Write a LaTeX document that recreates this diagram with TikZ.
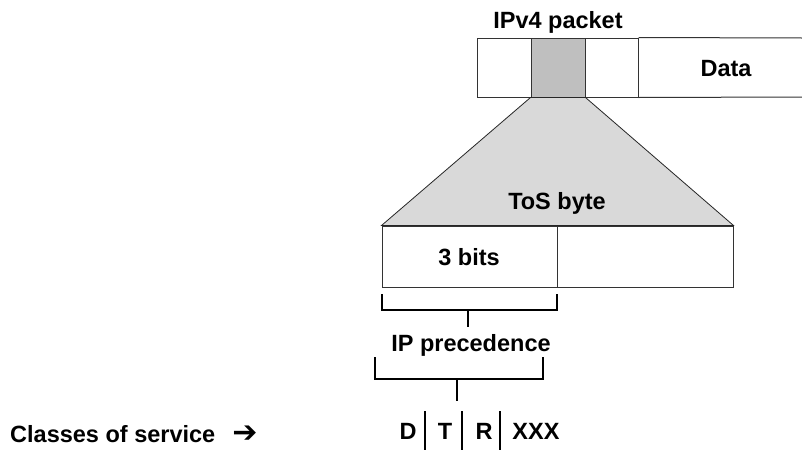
\documentclass[tikz,border=0pt]{standalone}
\usepackage{fontspec}
\setmainfont{Liberation Sans}
\newfontfamily\arrowfont{DejaVu Sans}
\tikzset{
  cell/.style={draw=black!80, line width=1pt, inner sep=0pt, minimum height=59pt},
  tosbox/.style={draw=black!80, line width=1pt, inner sep=0pt, minimum height=61pt},
  lbl/.style={inner sep=0pt, font=\bfseries\fontsize{23.5}{28}\selectfont},
  bracket/.style={line width=1.8pt},
}
\begin{document}
\begin{tikzpicture}[x=1pt, y=-1pt]
  \useasboundingbox (0,0) rectangle (802,450);
  % the IPv4 packet
  \draw (558,28) node[lbl, anchor=base] (pkt){IPv4 packet};
  \node[cell, minimum width=54pt] (c1) at (504,67.5) {};
  \node[cell, minimum width=54pt, fill=black!25] (c2) at (558,67.5) {};
  \node[cell, minimum width=53pt] (c3) at (611.5,67.5) {};
  \coordinate (dtop) at (802,38);
  \coordinate (dbot) at (802,97);
  \draw[black!80, line width=1pt] (c3.north east) -- (dtop) (c3.south east) -- (dbot);
  \draw (726,76) node[lbl, anchor=base] (data){Data};
  % the ToS byte, opened out of the grey field
  \node[tosbox, minimum width=175pt] (bits) at (469.5,256.5) {};
  \node[tosbox, minimum width=176pt] (rest) at (645,256.5) {};
  \filldraw[fill=black!15, draw=black!85, line width=0.8pt]
    (c2.south west) -- (bits.north west) -- (rest.north east) -- (c2.south east) -- cycle;
  \node[tosbox, minimum width=175pt] at (bits) {};
  \node[tosbox, minimum width=176pt] at (rest) {};
  \draw (557,209) node[lbl, anchor=base] (tos){ToS byte};
  \draw (469,265) node[lbl, anchor=base] (three){3 bits};
  % brackets
  \coordinate (s1) at (468,310);
  \coordinate (s1end) at (468,327);
  \draw[bracket] (382,294) |- (557,310) -- (557,294);
  \draw[bracket] (s1) -- (s1end);
  \draw (471,351) node[lbl, anchor=base] (prec){IP precedence};
  \coordinate (s2) at (457,379);
  \coordinate (s2end) at (457,401);
  \draw[bracket] (375,357) |- (543,379) -- (543,357);
  \draw[bracket] (s2) -- (s2end);
  % classes of service
  \draw (10,442) node[lbl, anchor=base west] (cos){Classes of service\hspace{17pt}{\arrowfont\bfseries\fontsize{30}{30}\selectfont ➔}};
  \draw (408,439) node[lbl, anchor=base] (d){D}
        (445,439) node[lbl, anchor=base] (t){T}
        (484,439) node[lbl, anchor=base] (r){R}
        (536,439) node[lbl, anchor=base] (xxx){XXX};
  \begin{scope}[bracket]
    \draw (425,411) -- (425,450);
    \draw (462,411) -- (462,450);
    \draw (500,411) -- (500,450);
  \end{scope}
\end{tikzpicture}
\end{document}
